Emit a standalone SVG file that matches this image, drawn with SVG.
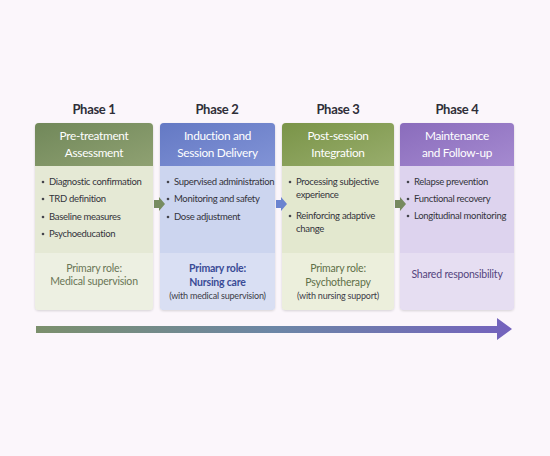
<svg xmlns="http://www.w3.org/2000/svg" width="550" height="456" viewBox="0 0 550 456">
<defs>
<style>
.ph{font-family:Lato,"Open Sans",sans-serif;font-size:13px;font-weight:bold;fill:#2e2e38;text-anchor:middle;letter-spacing:-0.3px}
.hd{font-family:Lato,"Open Sans",sans-serif;font-size:11.8px;fill:#ffffff;text-anchor:middle;letter-spacing:-0.3px}
.bl{font-family:Lato,"Open Sans",sans-serif;font-size:9.5px;fill:#33333b;letter-spacing:-0.3px}
.dot{fill:#44444c}
.rg{font-family:Lato,"Open Sans",sans-serif;font-size:10.5px;text-anchor:middle;letter-spacing:-0.2px}
.sm{font-family:Lato,"Open Sans",sans-serif;font-size:9px;fill:#3c3c48;text-anchor:middle;letter-spacing:-0.2px}
</style>
<linearGradient id="g1" x1="0" y1="0" x2="1" y2="1"><stop offset="0" stop-color="#71885a"/><stop offset="1" stop-color="#8fa172"/></linearGradient>
<linearGradient id="g2" x1="0" y1="0" x2="1" y2="1"><stop offset="0" stop-color="#6479c4"/><stop offset="1" stop-color="#8193d6"/></linearGradient>
<linearGradient id="g3" x1="0" y1="0" x2="1" y2="1"><stop offset="0" stop-color="#7a9448"/><stop offset="1" stop-color="#98ad6c"/></linearGradient>
<linearGradient id="g4" x1="0" y1="0" x2="1" y2="1"><stop offset="0" stop-color="#8a6cbc"/><stop offset="1" stop-color="#a58ad0"/></linearGradient>
<linearGradient id="ga" x1="0" y1="0" x2="1" y2="0"><stop offset="0" stop-color="#7b8f6c"/><stop offset="0.5" stop-color="#6c86a6"/><stop offset="1" stop-color="#7462bd"/></linearGradient>
<filter id="sh" x="-10%" y="-10%" width="120%" height="120%"><feDropShadow dx="0" dy="1" stdDeviation="1.2" flood-color="#000" flood-opacity="0.15"/></filter>
</defs>
<rect width="550" height="456" fill="#fbf6fb"/>

<g id="phase1">
<text class="ph" x="94" y="114">Phase 1</text>
<rect x="35" y="123" width="118" height="187" rx="4" fill="#e5e9d5" filter="url(#sh)"/>
<path d="M35,166 V127 Q35,123 39,123 H149 Q153,123 153,127 V166 Z" fill="url(#g1)"/>
<path d="M35,253 H153 V306 Q153,310 149,310 H39 Q35,310 35,306 Z" fill="#edf0e2"/>
<text class="hd" x="94" y="140">Pre-treatment</text>
<text class="hd" x="94" y="157">Assessment</text>
<circle class="dot" cx="43" cy="182" r="1.3"/><text class="bl" x="49" y="185">Diagnostic confirmation</text>
<circle class="dot" cx="43" cy="199" r="1.3"/><text class="bl" x="49" y="202">TRD definition</text>
<circle class="dot" cx="43" cy="217" r="1.3"/><text class="bl" x="49" y="220">Baseline measures</text>
<circle class="dot" cx="43" cy="234" r="1.3"/><text class="bl" x="49" y="237">Psychoeducation</text>
<text class="rg" x="94" y="272" fill="#6a7656">Primary role:</text>
<text class="rg" x="94" y="285" fill="#6a7656">Medical supervision</text>
</g>

<g id="phase2">
<text class="ph" x="217" y="114">Phase 2</text>
<rect x="160" y="123" width="115" height="187" rx="4" fill="#ccd5ef" filter="url(#sh)"/>
<path d="M160,166 V127 Q160,123 164,123 H271 Q275,123 275,127 V166 Z" fill="url(#g2)"/>
<path d="M160,253 H275 V306 Q275,310 271,310 H164 Q160,310 160,306 Z" fill="#d9dff3"/>
<text class="hd" x="217.5" y="140">Induction and</text>
<text class="hd" x="217.5" y="157">Session Delivery</text>
<circle class="dot" cx="168" cy="182" r="1.3"/><text class="bl" x="174" y="185">Supervised administration</text>
<circle class="dot" cx="168" cy="199" r="1.3"/><text class="bl" x="174" y="202">Monitoring and safety</text>
<circle class="dot" cx="168" cy="217" r="1.3"/><text class="bl" x="174" y="220">Dose adjustment</text>
<text class="rg" x="217.5" y="272" fill="#3a4b96" font-weight="bold" font-size="12">Primary role:</text>
<text class="rg" x="217.5" y="286" fill="#3a4b96" font-weight="bold" font-size="13">Nursing care</text>
<text class="sm" x="217.5" y="299">(with medical supervision)</text>
</g>

<g id="phase3">
<text class="ph" x="338" y="114">Phase 3</text>
<rect x="282" y="123" width="112" height="187" rx="4" fill="#e3e8cf" filter="url(#sh)"/>
<path d="M282,166 V127 Q282,123 286,123 H390 Q394,123 394,127 V166 Z" fill="url(#g3)"/>
<path d="M282,253 H394 V306 Q394,310 390,310 H286 Q282,310 282,306 Z" fill="#ecefdc"/>
<text class="hd" x="338" y="140">Post-session</text>
<text class="hd" x="338" y="157">Integration</text>
<circle class="dot" cx="290" cy="182" r="1.3"/><text class="bl" x="296" y="185">Processing subjective</text>
<text class="bl" x="296" y="198">experience</text>
<circle class="dot" cx="290" cy="216" r="1.3"/><text class="bl" x="296" y="219">Reinforcing adaptive</text>
<text class="bl" x="296" y="232">change</text>
<text class="rg" x="338" y="272" fill="#5f7048">Primary role:</text>
<text class="rg" x="338" y="286" fill="#5f7048" font-size="12">Psychotherapy</text>
<text class="sm" x="338" y="299">(with nursing support)</text>
</g>

<g id="phase4">
<text class="ph" x="457" y="114">Phase 4</text>
<rect x="400" y="123" width="114" height="187" rx="4" fill="#ddd3ee" filter="url(#sh)"/>
<path d="M400,166 V127 Q400,123 404,123 H510 Q514,123 514,127 V166 Z" fill="url(#g4)"/>
<path d="M400,253 H514 V306 Q514,310 510,310 H404 Q400,310 400,306 Z" fill="#e6def2"/>
<text class="hd" x="457" y="140">Maintenance</text>
<text class="hd" x="457" y="157">and Follow-up</text>
<circle class="dot" cx="408" cy="182" r="1.3"/><text class="bl" x="414" y="185">Relapse prevention</text>
<circle class="dot" cx="408" cy="199" r="1.3"/><text class="bl" x="414" y="202">Functional recovery</text>
<circle class="dot" cx="408" cy="216" r="1.3"/><text class="bl" x="414" y="219">Longitudinal monitoring</text>
<text class="rg" x="457" y="278" fill="#54457e">Shared responsibility</text>
</g>

<g id="connectors">
<polygon points="154,200 159,200 159,197 165,204 159,211 159,208 154,208" fill="#778c60"/>
<polygon points="276,200 281,200 281,197 287,204 281,211 281,208 276,208" fill="#6a83d0"/>
<polygon points="395,200 400,200 400,197 406,204 400,211 400,208 395,208" fill="#76895e"/>
<path d="M36,326 H497 V318 L512,329 L497,340 V333 H36 Z" fill="url(#ga)"/>
</g>
</svg>
